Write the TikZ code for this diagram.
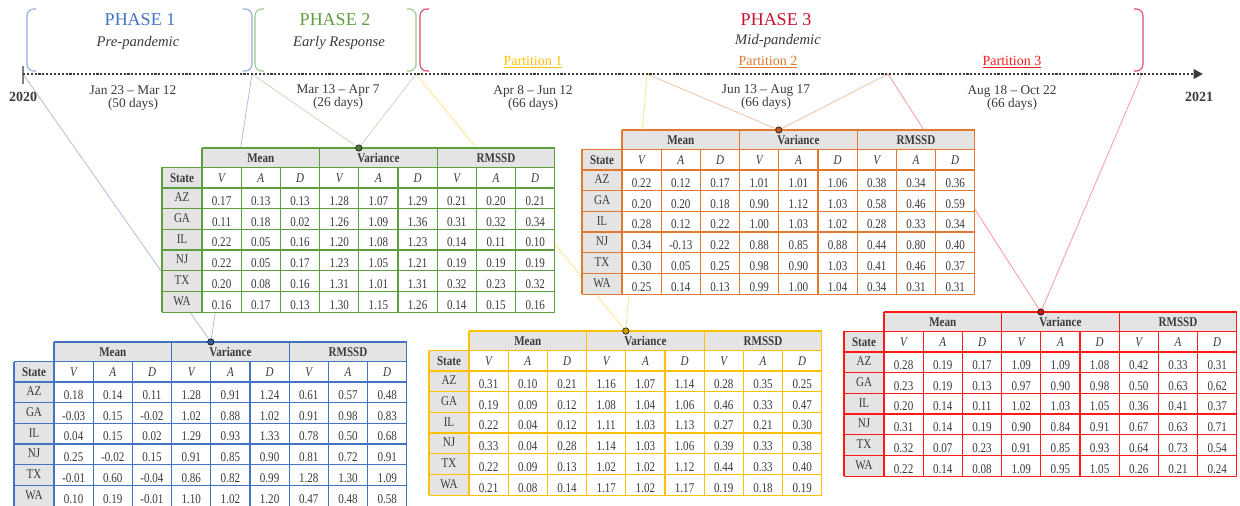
\documentclass[tikz,border=0pt]{standalone}
\usepackage{fontspec}
\setmainfont{Liberation Serif}
\newfontfamily\tabfont{Liberation Serif}[FakeStretch=0.83]
\usetikzlibrary{arrows.meta}

\definecolor{phaseblue}{HTML}{4472C4}
\definecolor{phasegreen}{HTML}{5E9E3E}
\definecolor{phasered}{HTML}{C8102E}
\definecolor{partyellow}{HTML}{FFC000}
\definecolor{partorange}{HTML}{E2772E}
\definecolor{partred}{HTML}{FF1A1A}
\definecolor{hdrgray}{HTML}{E4E4E4}
\definecolor{txtgray}{HTML}{3A3A3A}

\tikzset{
  tabline/.style={draw=#1, line width=1pt},
  hdrtext/.style={font={\tabfont\fontsize{10}{11}\selectfont\bfseries}, text=txtgray},
  vadtext/.style={font={\tabfont\fontsize{10}{11}\selectfont\itshape}, text=txtgray},
  statetext/.style={font={\tabfont\fontsize{10}{11}\selectfont}, text=txtgray},
  numtext/.style={font={\tabfont\fontsize{10}{11}\selectfont}, text=txtgray},
}

% таблица: #1 -- имя, #2 -- левый верхний угол шапки, #3 -- цвет, #4 -- строки
\newcommand{\vadtable}[4]{%
  \begin{scope}[shift={#2}]
    \fill[white] (-40,19.5) rectangle (352.8,164.2);
    \fill[hdrgray] (0,0) rectangle (352.8,19.5);
    \fill[hdrgray] (-40,19.5) rectangle (0,164.2);
    % линии
    \foreach \k in {0,...,6}
      \draw[tabline=#3] (-40,{40+20.7*\k}) -- (352.8,{40+20.7*\k});
    \draw[tabline=#3] (0,0) -- (352.8,0);
    \draw[tabline=#3] (-40,19.5) -- (352.8,19.5);
    \draw[tabline=#3] (-40,19.5) -- (-40,164.2);
    \foreach \k in {0,3,6,9}
      \draw[tabline=#3] ({39.2*\k},0) -- ({39.2*\k},164.2);
    \foreach \k in {1,2,4,5,7,8}
      \draw[tabline=#3] ({39.2*\k},19.5) -- ({39.2*\k},164.2);
    % шапка
    \foreach \g [count=\gi] in {Mean,Variance,RMSSD}
      \node[hdrtext] (#1-g\gi) at ({117.6*\gi-58.8},9.75) {\g};
    \node[hdrtext] (#1-state) at (-20,29.75) {State};
    \foreach \v [count=\vi] in {V,A,D,V,A,D,V,A,D}
      \node[vadtext] (#1-v\vi) at ({39.2*\vi-19.6},29.75) {\v};
    % данные
    \foreach \row [count=\ri] in {#4} {
      \foreach \cell [count=\ci] in \row {
        \ifnum\ci=1
          \node[statetext] (#1-\ri-\ci) at (-20,{40+20.7*\ri-11.4}) {\cell};
        \else
          \node[numtext] (#1-\ri-\ci) at ({39.2*\ci-58.8},{40+20.7*\ri-7.5}) {\cell};
        \fi
      }
    }
  \end{scope}
}

\begin{document}
\begin{tikzpicture}[x=0.75pt,y=-0.75pt,
  phase/.style={font=\fontsize{13.5}{15}\selectfont},
  sub/.style={font=\fontsize{11}{13}\selectfont\itshape, text=txtgray},
  part/.style={font=\fontsize{10.5}{12}\selectfont},
  dates/.style={font=\fontsize{10}{9.8}\selectfont, text=txtgray, align=center},
  year/.style={font=\fontsize{10.5}{12}\selectfont\bfseries, text=txtgray},
  link/.style={line width=0.6pt, opacity=0.45},
  bracket/.style={line width=0.8pt, rounded corners=5pt},
  joint/.style={circle, draw=black, line width=0.4pt, inner sep=0pt, minimum size=4.8pt},
]
\clip (0,0) rectangle (1240,506);

% Точки на шкале времени
\coordinate (t0) at (23,74);
\coordinate (t1) at (252,74);
\coordinate (t2) at (416,74);
\coordinate (t3) at (647,74);
\coordinate (t4) at (888,74);
\coordinate (t5) at (1142,74);
\coordinate (tend) at (1203,74);

% Точки крепления таблиц
\coordinate (dB) at (210.8,342);
\coordinate (dG) at (358.8,148);
\coordinate (dY) at (625.8,331);
\coordinate (dO) at (778.8,130);
\coordinate (dR) at (1040.8,312);

% Связи
\draw[link, phaseblue] (t0) -- (dB);
\draw[link, phaseblue] (t1) -- (dB);
\draw[link, phasegreen!80] (t1) -- (dG);
\draw[link, phasegreen!80] (t2) -- (dG);
\draw[link, partyellow] (t2) -- (dY);
\draw[link, partyellow] (t3) -- (dY);
\draw[link, partorange] (t3) -- (dO);
\draw[link, partorange] (t4) -- (dO);
\draw[link, partred] (t4) -- (dR);
\draw[link, partred] (t5) -- (dR);

% Скобки фаз
\draw[bracket, phaseblue!60] (36,9) -- (27,9) -- (27,71) -- (36,71);
\draw[bracket, phaseblue!60] (243,9) -- (252,9) -- (252,71) -- (243,71);
\draw[bracket, phasegreen!60] (264,9) -- (255,9) -- (255,71) -- (264,71);
\draw[bracket, phasegreen!60] (407,9) -- (416,9) -- (416,71) -- (407,71);
\draw[bracket, phasered!75] (429,9) -- (420,9) -- (420,71) -- (429,71);
\draw[bracket, phasered!75] (1134,9) -- (1143,9) -- (1143,71) -- (1134,71);

% Шкала времени
\draw[line width=1.5pt, gray] (23,66) -- (23,84);
\draw[line width=2.2pt, txtgray, dash pattern=on 1.6pt off 1.3pt,
  -{Triangle[length=7pt,width=7pt]}] (t0) -- (tend);

% Подписи
\node[phase, text=phaseblue] (ph1) at (140,20) {PHASE 1};
\node[sub] (ph1s) at (138,43) {Pre-pandemic};
\node[phase, text=phasegreen] (ph2) at (335,20) {PHASE 2};
\node[sub] (ph2s) at (339,43) {Early Response};
\node[phase, text=phasered] (ph3) at (776,20) {PHASE 3};
\node[sub] (ph3s) at (778,41) {Mid-pandemic};
\node[part, text=partyellow] (p1) at (533,62) {\underline{Partition 1}};
\node[part, text=partorange] (p2) at (768,62) {\underline{Partition 2}};
\node[part, text=partred] (p3) at (1012,62) {\underline{Partition 3}};
\node[year] (y0) at (23,97) {2020};
\node[year] (y1) at (1199,97) {2021};
\node[dates] (d1) at (133,98) {Jan 23 -- Mar 12\\(50 days)};
\node[dates] (d2) at (338,97) {Mar 13 -- Apr 7\\(26 days)};
\node[dates] (d3) at (533,98) {Apr 8 -- Jun 12\\(66 days)};
\node[dates] (d4) at (766,97) {Jun 13 -- Aug 17\\(66 days)};
\node[dates] (d5) at (1012,98) {Aug 18 -- Oct 22\\(66 days)};

% Таблицы
\vadtable{tabB}{(54,342)}{phaseblue}{
  {AZ,0.18,0.14,0.11,1.28,0.91,1.24,0.61,0.57,0.48},
  {GA,-0.03,0.15,-0.02,1.02,0.88,1.02,0.91,0.98,0.83},
  {IL,0.04,0.15,0.02,1.29,0.93,1.33,0.78,0.50,0.68},
  {NJ,0.25,-0.02,0.15,0.91,0.85,0.90,0.81,0.72,0.91},
  {TX,-0.01,0.60,-0.04,0.86,0.82,0.99,1.28,1.30,1.09},
  {WA,0.10,0.19,-0.01,1.10,1.02,1.20,0.47,0.48,0.58}}
\vadtable{tabG}{(202,148)}{phasegreen}{
  {AZ,0.17,0.13,0.13,1.28,1.07,1.29,0.21,0.20,0.21},
  {GA,0.11,0.18,0.02,1.26,1.09,1.36,0.31,0.32,0.34},
  {IL,0.22,0.05,0.16,1.20,1.08,1.23,0.14,0.11,0.10},
  {NJ,0.22,0.05,0.17,1.23,1.05,1.21,0.19,0.19,0.19},
  {TX,0.20,0.08,0.16,1.31,1.01,1.31,0.32,0.23,0.32},
  {WA,0.16,0.17,0.13,1.30,1.15,1.26,0.14,0.15,0.16}}
\vadtable{tabY}{(469,331)}{partyellow}{
  {AZ,0.31,0.10,0.21,1.16,1.07,1.14,0.28,0.35,0.25},
  {GA,0.19,0.09,0.12,1.08,1.04,1.06,0.46,0.33,0.47},
  {IL,0.22,0.04,0.12,1.11,1.03,1.13,0.27,0.21,0.30},
  {NJ,0.33,0.04,0.28,1.14,1.03,1.06,0.39,0.33,0.38},
  {TX,0.22,0.09,0.13,1.02,1.02,1.12,0.44,0.33,0.40},
  {WA,0.21,0.08,0.14,1.17,1.02,1.17,0.19,0.18,0.19}}
\vadtable{tabO}{(622,130)}{partorange}{
  {AZ,0.22,0.12,0.17,1.01,1.01,1.06,0.38,0.34,0.36},
  {GA,0.20,0.20,0.18,0.90,1.12,1.03,0.58,0.46,0.59},
  {IL,0.28,0.12,0.22,1.00,1.03,1.02,0.28,0.33,0.34},
  {NJ,0.34,-0.13,0.22,0.88,0.85,0.88,0.44,0.80,0.40},
  {TX,0.30,0.05,0.25,0.98,0.90,1.03,0.41,0.46,0.37},
  {WA,0.25,0.14,0.13,0.99,1.00,1.04,0.34,0.31,0.31}}
\vadtable{tabR}{(884,312)}{partred}{
  {AZ,0.28,0.19,0.17,1.09,1.09,1.08,0.42,0.33,0.31},
  {GA,0.23,0.19,0.13,0.97,0.90,0.98,0.50,0.63,0.62},
  {IL,0.20,0.14,0.11,1.02,1.03,1.05,0.36,0.41,0.37},
  {NJ,0.31,0.14,0.19,0.90,0.84,0.91,0.67,0.63,0.71},
  {TX,0.32,0.07,0.23,0.91,0.85,0.93,0.64,0.73,0.54},
  {WA,0.22,0.14,0.08,1.09,0.95,1.05,0.26,0.21,0.24}}

% Точки на таблицах
\node[joint, fill=phaseblue!80!black] (jB) at (dB) {};
\node[joint, fill=phasegreen!80!black] (jG) at (dG) {};
\node[joint, fill=partyellow!80!black] (jY) at (dY) {};
\node[joint, fill=partorange!80!black] (jO) at (dO) {};
\node[joint, fill=partred!80!black] (jR) at (dR) {};
\end{tikzpicture}
\end{document}
